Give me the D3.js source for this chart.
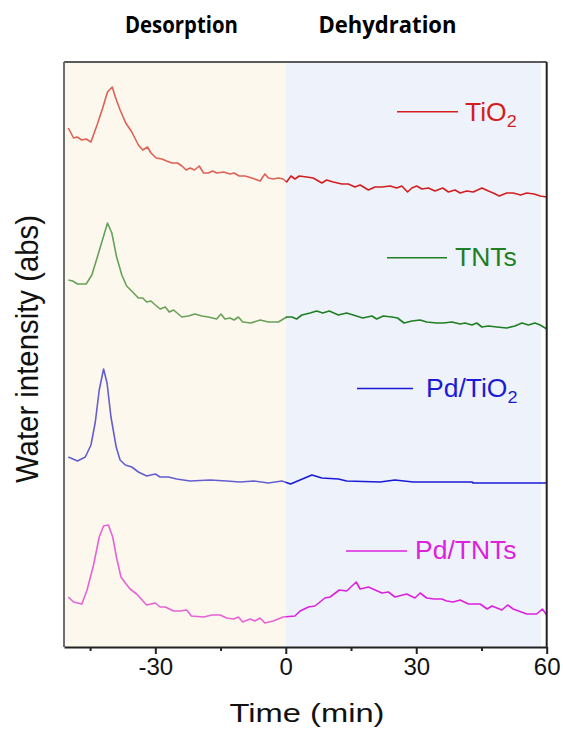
<!DOCTYPE html>
<html>
<head>
<meta charset="utf-8">
<script src="https://cdn.jsdelivr.net/npm/d3@7"></script>
<style>
  body { margin: 0; background: #fff; }
  svg { display: block; font-family: Arial, "Liberation Sans", sans-serif; }
</style>
</head>
<body>
<svg id="chart" width="563" height="729"></svg>
<script>
// [time (min), water signal (a.u., curves already stacked)]
const tio2 = [[-50,519],[-48.8,509],[-48,510],[-46.9,507],[-45.9,508],[-44.8,505],[-43.4,522],[-42.1,539],[-41,555],[-39.9,560],[-39.2,550],[-38.1,537],[-36.8,524],[-35.4,515],[-33.9,502],[-32.9,497],[-31.8,500],[-31,494],[-29.8,489],[-28.5,488],[-27.4,486],[-26.2,484],[-24.9,484],[-23.9,481],[-22.9,477],[-22,479],[-21,477],[-19.9,481],[-18.9,474],[-17.8,474],[-16.8,476],[-15.9,474],[-14.3,475],[-12.8,473],[-11.9,474],[-10.7,471],[-9.4,471],[-7.8,469],[-5.9,466],[-4.8,473],[-4,469],[-2.9,468],[-1.7,469],[-0.6,468],[0.2,465],[1.2,471],[2.1,468],[3.1,471],[4.8,470],[6.3,469],[8.3,464],[9.4,467],[10.9,465],[12.9,463],[14.4,463],[15.9,460],[17.1,462],[19,457],[20.5,460],[22.1,460],[24,461],[25.5,459],[26.7,461],[28,455],[29,459],[30.1,461],[31.3,458],[32.8,459],[34.3,456],[36.1,459],[37.4,455],[38.9,457],[40.1,454],[41.6,456],[43.1,455],[45.1,459],[46.6,456],[47.7,454],[49.1,451],[50.8,454],[52.3,454],[54,452],[55.4,454],[57.1,453],[58.5,451],[60,450]];
const tnts = [[-50,367],[-49,366],[-47.9,363],[-45.9,363],[-44.6,372],[-43.4,389],[-42.3,405],[-41,424],[-40,414],[-38.9,390],[-37.7,372],[-36.6,361],[-35,354],[-33.9,349],[-32.9,349],[-32,345],[-31,346],[-30,342],[-28.9,338],[-27.7,340],[-26.8,335],[-25.8,337],[-23.9,330],[-22.4,331],[-20.9,333],[-19.3,331],[-17.8,330],[-15.9,328],[-14.9,333],[-14,328],[-12.8,329],[-11.9,327],[-10.9,330],[-9.9,325],[-8,324],[-5.9,327],[-4,325],[-1.7,325],[0.2,330],[1.4,330],[2.5,328],[3.7,332],[5.6,334],[7.1,336],[8.5,334],[10,336],[12.1,332],[14,334],[15.5,332],[17.7,329],[19.8,331],[20.9,328],[22.4,331],[24.4,330],[25.7,329],[27.2,324],[29,326],[30.9,327],[32.4,325],[34.7,324],[36.2,324],[38.2,325],[40.1,323],[41.2,324],[42.8,322],[43.9,324],[45.1,320],[46.6,321],[48.5,320],[50.8,319],[52.7,321],[54.3,324],[55.8,322],[57.3,324],[58.5,322],[60,318]];
const pdTio2 = [[-50,190],[-47.9,186],[-46.1,190],[-44.8,202],[-43.8,225],[-42.9,257],[-41.9,278],[-41.1,264],[-40.2,230],[-39,200],[-38.1,187],[-36.9,182],[-35.4,180],[-33.9,175],[-32,171],[-30,173],[-28.9,170],[-27,170],[-25.1,168],[-22,166],[-17.4,167],[-13.6,166],[-10.5,165],[-7.4,166],[-4,164],[-0.9,166],[1.1,163],[6,172],[8.3,169],[12.1,168],[14,166],[21.7,165],[25.1,167],[29.3,165],[42.8,165],[43.1,164],[60,164]];
const pdTnts = [[-50,50],[-48.8,45],[-46.9,43],[-45.7,57],[-44.2,82],[-42.9,110],[-41.9,121],[-40.8,122],[-39.8,110],[-38.9,89],[-37.9,70],[-36.9,64],[-35.8,58],[-34.3,53],[-32,42],[-30,44],[-28.9,40],[-27.7,40],[-25.8,36],[-24.3,36],[-22.8,37],[-21.7,31],[-18.9,30],[-17,32],[-15.1,32],[-13.6,29],[-12,28],[-10.9,30],[-9.9,25],[-8.2,28],[-7.1,26],[-5.9,29],[-4.8,24],[-2.9,26],[-0.6,30],[2.1,31],[3.3,36],[5.2,40],[6.7,41],[9,49],[10.2,50],[12.3,57],[14,56],[16.2,65],[17.1,58],[19,60],[22.1,54],[23.6,55],[25.1,50],[27.8,53],[29.7,49],[30.9,54],[32.4,49],[34.1,48],[35.9,48],[37,46],[38.5,45],[40.1,47],[42,43],[44.7,43],[46.3,38],[47.4,41],[49.7,37],[51,42],[52.3,38],[55.4,33],[57.7,33],[59,38],[60,32]];

const seriesNames = ["TiO2", "TNTs", "Pd/TiO2", "Pd/TNTs"];
const seriesData = [tio2, tnts, pdTio2, pdTnts];
const seriesColors = ["#d21f1f", "#1f7f22", "#1b1bd6", "#dc22dc"];
const majorTicks = [-30, 0, 30, 60];
const minorTicks = [-45, -15, 15, 45];
const phaseLabels = ["Desorption", "Dehydration"];

const svg = d3.select("#chart");
const margin = { top: 62, right: 17, bottom: 82, left: 64 };
const width = 563, height = 729;

const x = d3.scaleLinear().domain([-51, 60]).range([margin.left, width - margin.right + 0.7]);
const y = d3.scaleLinear().domain([0, 585]).range([height - margin.bottom, margin.top]);

// dehydration background (under the curves)
svg.append("rect")
  .attr("x", x(0)).attr("y", y(585))
  .attr("width", x(58.7) - x(0)).attr("height", y(0) - y(585))
  .attr("fill", "#eef2fb");

// curves
const line = d3.line().x(d => x(d[0])).y(d => y(d[1]));
svg.append("g")
  .selectAll("path")
  .data(seriesData)
  .join("path")
  .attr("d", line)
  .attr("fill", "none")
  .attr("stroke", (d, i) => seriesColors[i])
  .attr("stroke-width", 1.6)
  .attr("stroke-linejoin", "round");

// desorption shading, laid over the curves so they look paler there
svg.append("rect")
  .attr("x", x(-51)).attr("y", y(585))
  .attr("width", x(0) - x(-51)).attr("height", y(0) - y(585))
  .attr("fill", "rgb(249,235,200)")
  .attr("opacity", 0.33);

// frame
svg.append("line").attr("x1", x(-51)).attr("x2", x(60)).attr("y1", y(585)).attr("y2", y(585))
  .attr("stroke", "#5a5a5a").attr("stroke-width", 2);
svg.append("line").attr("x1", x(-51)).attr("x2", x(-51)).attr("y1", y(585)).attr("y2", y(0))
  .attr("stroke", "#6e6e6e").attr("stroke-width", 2);
svg.append("line").attr("x1", x(60)).attr("x2", x(60)).attr("y1", y(585)).attr("y2", y(0))
  .attr("stroke", "#222").attr("stroke-width", 2);

// x axis
const xAxis = svg.append("g")
  .attr("transform", "translate(0," + y(0) + ")")
  .call(d3.axisBottom(x).tickValues(majorTicks).tickSize(7).tickSizeOuter(0).tickFormat(d3.format("d")));
xAxis.select(".domain").attr("stroke", "#222").attr("stroke-width", 2);
xAxis.selectAll(".tick line").attr("stroke", "#222").attr("stroke-width", 2);
xAxis.selectAll(".tick text")
  .attr("font-family", "Arial, 'Liberation Sans', sans-serif")
  .attr("font-size", 24).attr("fill", "#111").attr("y", 11);
xAxis.selectAll(".tick text").text(d => d < 0 ? "-" + Math.abs(d) : d);

svg.append("g")
  .attr("transform", "translate(0," + y(0) + ")")
  .call(d3.axisBottom(x).tickValues(minorTicks).tickSize(4).tickFormat(""))
  .call(g => g.select(".domain").remove())
  .selectAll(".tick line").attr("stroke", "#222").attr("stroke-width", 2);

// axis titles
svg.append("text")
  .attr("x", 307).attr("y", 722)
  .attr("text-anchor", "middle")
  .attr("font-size", 25)
  .attr("textLength", 155).attr("lengthAdjust", "spacingAndGlyphs")
  .attr("fill", "#111")
  .text("Time (min)");

svg.append("text")
  .attr("transform", "translate(38,349) rotate(-90)")
  .attr("text-anchor", "middle")
  .attr("font-size", 31)
  .attr("textLength", 268).attr("lengthAdjust", "spacingAndGlyphs")
  .attr("fill", "#111")
  .text("Water intensity (abs)");

// phase titles
const phaseX = [181.5, 387.5];
const phaseW = [113, 138];
svg.append("g")
  .selectAll("text")
  .data(phaseLabels)
  .join("text")
  .attr("x", (d, i) => phaseX[i]).attr("y", 33)
  .attr("text-anchor", "middle")
  .attr("font-family", "'Open Sans', 'Noto Sans', sans-serif")
  .attr("font-weight", 700)
  .attr("font-size", 23)
  .attr("textLength", (d, i) => phaseW[i]).attr("lengthAdjust", "spacingAndGlyphs")
  .attr("fill", "#000")
  .text(d => d);

// legend entries placed beside each curve
const legendPos = [
  { x1: 397, x2: 458, ly: 111.7, tx: 465, ty: 120.7 },
  { x1: 387, x2: 447, ly: 257.7, tx: 455, ty: 266 },
  { x1: 357, x2: 413, ly: 388.5, tx: 426, ty: 397.3 },
  { x1: 346, x2: 407, ly: 551, tx: 415, ty: 559.3 }
];
const legend = svg.append("g");
seriesNames.forEach((name, i) => {
  const p = legendPos[i];
  legend.append("line")
    .attr("x1", p.x1).attr("x2", p.x2).attr("y1", p.ly).attr("y2", p.ly)
    .attr("stroke", seriesColors[i]).attr("stroke-width", 1.6);
  const t = legend.append("text")
    .attr("transform", "translate(" + p.tx + "," + p.ty + ") scale(1.06,1)")
    .attr("font-size", 25)
    .attr("fill", seriesColors[i]);
  if (name.endsWith("2")) {
    t.append("tspan").text(name.slice(0, -1));
    t.append("tspan").attr("font-size", 17).attr("dy", 6).text("2");
  } else {
    t.text(name);
  }
});
</script>
</body>
</html>
